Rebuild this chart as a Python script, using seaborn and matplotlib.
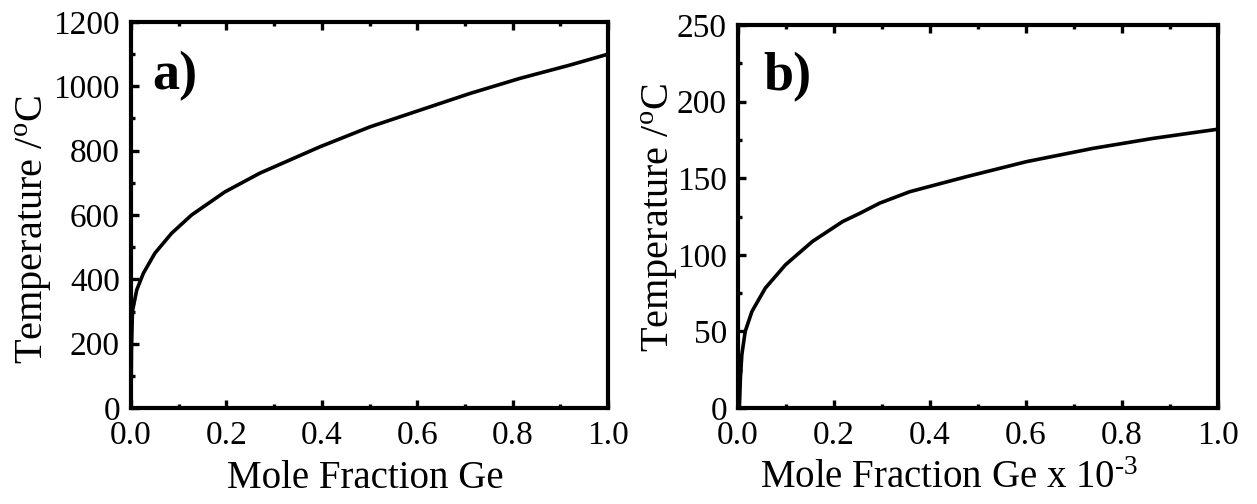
import numpy as np
import pandas as pd
import matplotlib
matplotlib.use("Agg")
import matplotlib.pyplot as plt
import seaborn as sns
from matplotlib.ticker import MultipleLocator

# ---- data ----
xa = [0.0, 0.001, 0.003, 0.012, 0.026, 0.050, 0.085, 0.127, 0.197, 0.270,
      0.396, 0.501, 0.606, 0.711, 0.816, 0.920, 1.0]
Ta = [0, 182, 300, 367, 419, 481, 543, 600, 672, 730,
      812, 874, 926, 978, 1025, 1066, 1100]

xb = [0.0, 0.003, 0.005, 0.008, 0.015, 0.029, 0.057, 0.099, 0.155, 0.218,
      0.254, 0.295, 0.358, 0.476, 0.601, 0.740, 0.865, 1.0]
Tb = [0, 1, 19.6, 34.8, 50, 63, 78.3, 93.5, 108.7, 121.7,
      127.1, 133.7, 141.2, 151, 160.8, 169.5, 176, 182]

xticks = [0.0, 0.2, 0.4, 0.6, 0.8, 1.0]
xticklabels = ["0.0", "0.2", "0.4", "0.6", "0.8", "1.0"]
yticks_a = [0, 200, 400, 600, 800, 1000, 1200]
yticks_b = [0, 50, 100, 150, 200, 250]

xlabel_a = "Mole Fraction Ge"
xlabel_b = r"Mole Fraction Ge x 10$^{\rm \text{-}3}$"
ylabel = r"Temperature /$^{\rm o}$C"
panel_a = "a)"
panel_b = "b)"

# ---- style ----
sns.set_theme(style="ticks")
plt.rcParams["font.family"] = ["Liberation Serif", "DejaVu Serif"]
plt.rcParams["mathtext.fontset"] = "custom"
plt.rcParams["mathtext.rm"] = "Liberation Serif"
plt.rcParams["mathtext.it"] = "Liberation Serif:italic"
plt.rcParams["mathtext.bf"] = "Liberation Serif:bold"
for k in ["text.color", "axes.labelcolor", "xtick.color", "ytick.color",
          "axes.edgecolor"]:
    plt.rcParams[k] = "black"

fig = plt.figure(figsize=(12.57, 5.04), dpi=100)
W, H = 1257, 504

def px_axes(l, t, r, b):
    return fig.add_axes([l / W, 1 - b / H, (r - l) / W, (b - t) / H])

ax_a = px_axes(131, 22, 608, 408)
ax_b = px_axes(738, 25, 1218, 408)

df_a = pd.DataFrame({"x": xa, "T": Ta})
df_b = pd.DataFrame({"x": xb, "T": Tb})
sns.lineplot(data=df_a, x="x", y="T", ax=ax_a, color="black", lw=2.6, sort=True)
sns.lineplot(data=df_b, x="x", y="T", ax=ax_b, color="black", lw=2.6, sort=True)

def style(ax, yticks, ymax, yminor, xlabel, ylab_coords, xlab_coords, panel, pcoords):
    ax.set_xlim(0, 1)
    ax.set_ylim(0, ymax)
    ax.set_xticks(xticks)
    ax.set_xticklabels(xticklabels)
    ax.set_yticks(yticks)
    ax.set_yticklabels([str(v) for v in yticks])
    ax.xaxis.set_minor_locator(MultipleLocator(0.1))
    ax.yaxis.set_minor_locator(MultipleLocator(yminor))
    for s in ax.spines.values():
        s.set_visible(True)
        s.set_linewidth(3.0)
        s.set_color("black")
    ax.tick_params(which="both", direction="in", top=True, right=False,
                   bottom=True, left=True, width=2.4, color="black",
                   labelcolor="black")
    ax.tick_params(which="major", length=6)
    ax.tick_params(which="minor", length=3.2)
    ax.tick_params(axis="y", which="major", labelsize=24, pad=8)
    ax.tick_params(axis="x", which="major", labelsize=24, pad=9)
    ax.set_xlabel(xlabel, fontsize=28, color="black")
    ax.set_ylabel(ylabel, fontsize=29, color="black")
    ax.xaxis.label.set_va("center")
    ax.yaxis.label.set_va("center")
    ax.xaxis.set_label_coords(*xlab_coords)
    ax.yaxis.set_label_coords(*ylab_coords)
    ax.text(pcoords[0], pcoords[1], panel, transform=ax.transAxes,
            fontsize=39, fontweight="bold", ha="left", va="baseline",
            color="black")
    ax.grid(False)

style(ax_a, yticks_a, 1200, 100, xlabel_a, (-0.203, 0.461), (0.491, -0.182),
      panel_a, (0.044, 0.825))
style(ax_b, yticks_b, 250, 25, xlabel_b, (-0.1625, 0.496), (0.44, -0.183),
      panel_b, (0.052, 0.83))

fig.savefig("out.png", dpi=100, facecolor="white")
